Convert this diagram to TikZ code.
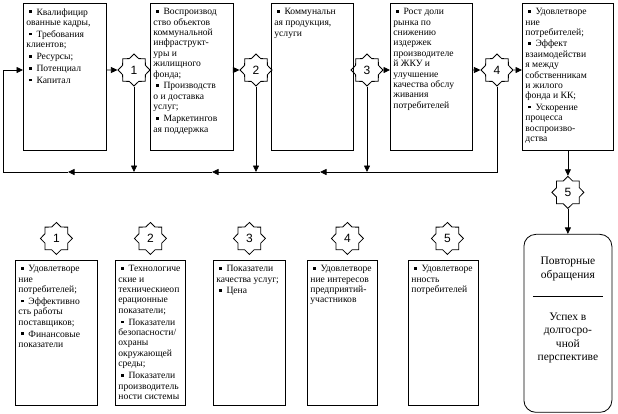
\documentclass[tikz,border=0pt]{standalone}
\usepackage{fontspec}
\setmainfont{Liberation Serif}
\newfontfamily\numfont{Liberation Sans}
\usetikzlibrary{shapes.geometric,arrows.meta,positioning}

\newcommand{\bul}{\hspace*{3pt}\rule[2pt]{2.6pt}{2.6pt}\kern4.5pt}
\newcommand{\cell}[3]{\parbox[t][#2][t]{#1}{\raggedright #3}}

\tikzset{
  box/.style={draw, line width=0.8pt, anchor=north west, inner xsep=3pt, inner ysep=5pt,
    font=\fontsize{9.6}{10.4}\selectfont},
  star8/.style={draw, line width=0.8pt, star, star points=8, star point ratio=1.3,
    minimum size=32pt, inner sep=0pt, font=\numfont\fontsize{12}{12}\selectfont},
  endbox/.style={draw, line width=0.8pt, rounded corners=12pt, inner sep=4pt,
    font=\fontsize{11.5}{13.5}\selectfont},
  arr/.style={line width=0.8pt, -{Triangle[length=6.5pt,width=6pt]}},
}

\begin{document}
\begin{tikzpicture}[x=1pt, y=-1pt]
  \useasboundingbox (0,0) rectangle (618,413);
  % Define nodes
  \node[box] (kadry) at (23,3) {\cell{77pt}{137pt}{\bul Квалифицир\\ованные кадры,\\[1.5pt]\bul Требования\\клиентов;\\[1.5pt]\bul Ресурсы;\\[1.5pt]\bul Потенциал\\[1.5pt]\bul Капитал}};
  \node[box] (vospr) at (150,3) {\cell{77pt}{137pt}{\bul Воспроизвод\\ство объектов\\коммунальной\\инфраструкт-\\уры и\\жилищного\\фонда;\\[1.5pt]\bul Производств\\о и доставка\\услуг;\\[1.5pt]\bul Маркетингов\\ая поддержка}};
  \node[box] (prod) at (271,3) {\cell{76pt}{137pt}{\bul Коммунальн\\ая продукция,\\[1.5pt]услуги}};
  \node[box] (rost) at (390,3) {\cell{76pt}{137pt}{\bul Рост доли\\рынка по\\снижению\\издержек\\производителе\\й ЖКУ и\\улучшение\\качества обслу\\живания\\потребителей}};
  \node[box] (effect) at (522,3) {\cell{85pt}{137pt}{\bul Удовлетворе\\ние\\потребителей;\\[1pt]\bul Эффект\\взаимодействи\\я между\\собственникам\\и жилого\\фонда и КК;\\[1pt]\bul Ускорение\\процесса\\воспроизво-\\дства}};
  \node[star8] (s1) at (134,70) {1};
  \node[star8] (s2) at (256,70) {2};
  \node[star8] (s3) at (367,70) {3};
  \node[star8] (s4) at (497,70) {4};
  \node[star8, below=25pt of effect] (s5) {5};
  \node[endbox, below=25pt of s5] (uspeh) {\parbox[t][170pt][t]{80pt}{\centering\vspace*{19pt}Повторные\\обращения\\[5pt]\rule{70pt}{0.8pt}\\[10pt]Успех в\\долгосро-\\чной\\перспективе}};

  \node[box] (p1) at (15,260) {\cell{76pt}{135pt}{\bul Удовлетворе\\ние\\потребителей;\\[1.5pt]\bul Эффективно\\сть работы\\поставщиков;\\[1.5pt]\bul Финансовые\\показатели}};
  \node[box] (p2) at (115,260) {\cell{64pt}{135pt}{\bul Технологиче\\ские и\\техническиеоп\\ерационные\\показатели;\\[1.5pt]\bul Показатели\\безопасности/\\охраны\\окружающей\\среды;\\[1.5pt]\bul Показатели\\производитель\\ности~системы}};
  \node[box] (p3) at (213,260) {\cell{66pt}{135pt}{\bul Показатели\\качества услуг;\\[1.5pt]\bul Цена}};
  \node[box] (p4) at (307,260) {\cell{64pt}{135pt}{\bul Удовлетворе\\ние~интересов\\предприятий-\\участников}};
  \node[box] (p5) at (408,260) {\cell{64pt}{135pt}{\bul Удовлетворе\\нность\\потребителей}};
  \node[star8, above=5pt of p1] (t1) {1};
  \node[star8, above=5pt of p2] (t2) {2};
  \node[star8, above=5pt of p3] (t3) {3};
  \node[star8, above=5pt of p4, xshift=5pt] (t4) {4};
  \node[star8, above=5pt of p5, xshift=4pt] (t5) {5};

  \coordinate (base) at (0,172);
  \coordinate (h3) at (320,172);
  \coordinate (h2) at (212,172);
  \coordinate (h1) at (68,172);
  \coordinate (c1) at (3,70);
  % Connect nodes
  \draw[arr] (kadry.east |- s1) -- (s1.west);
  \draw[arr] (vospr.east |- s2) -- (s2.west);
  \draw[arr] (s3.east) -- (rost.west |- s3);
  \draw[arr] (rost.east |- s4) -- (s4.west);
  \draw[arr] (s4.east) -- (effect.west |- s4);
  \foreach \s in {s1,s2,s3}
    \draw[arr] (\s.south) -- (\s.south |- base);
  \draw[arr] (s4.south) |- (h3);
  \draw[arr] (h3) -- (h2);
  \draw[arr] (h2) -- (h1);
  \draw[arr] (h1) -| (c1) -- (kadry.west |- s1);
  \draw[arr] (effect.south) -- (s5.north);
  \draw[arr] (s5.south) -- (uspeh.north);
\end{tikzpicture}
\end{document}
